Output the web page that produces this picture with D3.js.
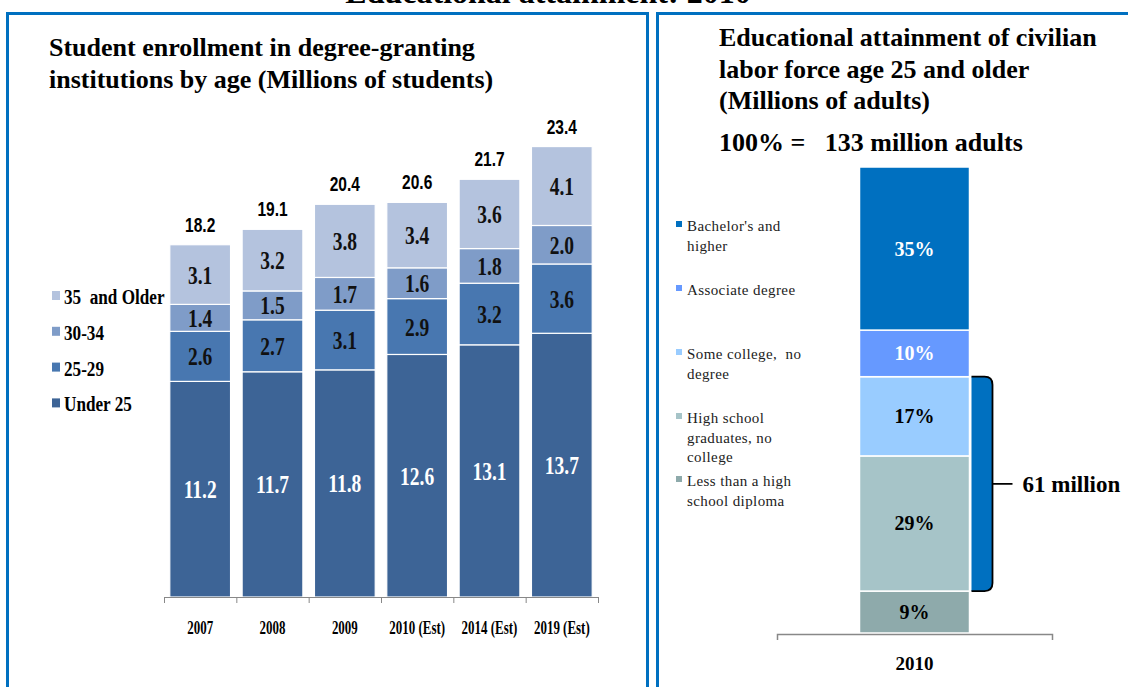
<!DOCTYPE html>
<html>
<head>
<meta charset="utf-8">
<script src="https://cdn.jsdelivr.net/npm/d3@7"></script>
<style>
  body { margin: 0; background: #fff; }
  svg { display: block; }
  text { font-family: "Liberation Serif", "Times New Roman", serif; }
</style>
</head>
<body>
<div id="chart"></div>
<script>
// left chart data
const years = ['2007', '2008', '2009', '2010 (Est)', '2014 (Est)', '2019 (Est)'];
const ageGroups = ['Under 25', '25-29', '30-34', '35  and Older'];
const under25 = [11.2, 11.7, 11.8, 12.6, 13.1, 13.7];
const age2529 = [2.6, 2.7, 3.1, 2.9, 3.2, 3.6];
const age3034 = [1.4, 1.5, 1.7, 1.6, 1.8, 2.0];
const age35up = [3.1, 3.2, 3.8, 3.4, 3.6, 4.1];
const totals = [18.2, 19.1, 20.4, 20.6, 21.7, 23.4];
const ageColors = ['#3d6496', '#4877b0', '#7f9cc8', '#b4c3de'];

// right chart data
const levels = ['Less than a high school diploma', 'High school graduates, no college',
  'Some college, no degree', 'Associate degree', "Bachelor's and higher"];
const shares = [9, 29, 17, 10, 35];
const levelColors = ['#8eaaab', '#a6c4c8', '#99ccff', '#6699ff', '#0070c0'];
const labelColors = ['#000', '#000', '#000', '#fff', '#fff'];
const legendLines = [
  ['Less than a high', 'school diploma'],
  ['High school', 'graduates, no', 'college'],
  ['Some college,  no', 'degree'],
  ['Associate degree'],
  ["Bachelor's and", 'higher']
];

const w = 1128, h = 687;
const svg = d3.select('#chart').append('svg').attr('width', w).attr('height', h);

// narrow text: place at (x,y) and squeeze horizontally
function squeeze(x, y, sx){
  return 'translate(' + x + ',' + y + ') scale(' + sx + ',1)';
}

// panels
const blue = '#0070c0';
svg.append('rect').attr('x', 7.5).attr('y', 13.5).attr('width', 640).attr('height', 700)
  .attr('fill', 'none').attr('stroke', blue).attr('stroke-width', 3);
svg.append('rect').attr('x', 657.5).attr('y', 13.5).attr('width', 500).attr('height', 700)
  .attr('fill', 'none').attr('stroke', blue).attr('stroke-width', 3);

// heading, cut off by the top edge as in the original
svg.append('text').text('Educational attainment: 2010')
  .attr('x', 548).attr('y', 3).attr('text-anchor', 'middle')
  .attr('font-size', 32).attr('font-weight', 'bold');

// ---------- left chart ----------
svg.selectAll('text.titleL')
  .data(['Student enrollment in degree-granting', 'institutions by age (Millions of students)'])
  .enter().append('text')
  .attr('class', 'titleL')
  .attr('x', 49).attr('y', (d, i) => 56 + i * 32)
  .attr('font-size', 26).attr('font-weight', 'bold')
  .text(d => d);

const x = d3.scaleBand().domain(years).range([164, 598]).paddingInner(0.16).paddingOuter(0.08);
const y = d3.scaleLinear().domain([0, 25]).range([597, 597 - 25 * 19.25]);

const rows = years.map((yr, i) => ({year: yr, 'Under 25': under25[i], '25-29': age2529[i],
  '30-34': age3034[i], '35  and Older': age35up[i], total: totals[i]}));
const stacked = d3.stack().keys(ageGroups)(rows);

const layer = svg.selectAll('g.layer')
  .data(stacked)
  .enter()
  .append('g')
  .attr('class', 'layer')
  .attr('fill', (d, i) => ageColors[i]);

layer.selectAll('rect')
  .data(d => d)
  .enter()
  .append('rect')
  .attr('x', d => x(d.data.year))
  .attr('width', x.bandwidth())
  .attr('y', d => y(d[1]))
  .attr('height', d => y(d[0]) - y(d[1]))
  .attr('stroke', '#fff')
  .attr('stroke-width', 1.2);

stacked.forEach(function(s, k){
  svg.selectAll('text.seg' + k)
    .data(s)
    .enter()
    .append('text')
    .attr('class', 'seg' + k)
    .text(d => (d[1] - d[0]).toFixed(1))
    .attr('transform', d => squeeze(x(d.data.year) + x.bandwidth() / 2, (y(d[0]) + y(d[1])) / 2 + 9, 0.75))
    .attr('text-anchor', 'middle')
    .attr('font-size', 26)
    .attr('font-weight', 'bold')
    .attr('fill', k == 0 ? '#fff' : '#111');
});

svg.selectAll('text.total')
  .data(rows)
  .enter()
  .append('text')
  .attr('class', 'total')
  .text(d => d.total.toFixed(1))
  .attr('transform', d => squeeze(x(d.year) + x.bandwidth() / 2, y(d3.sum(ageGroups, k => d[k])) - 13, 0.74))
  .attr('text-anchor', 'middle')
  .style('font-family', '"Liberation Sans", Arial, sans-serif')
  .attr('font-size', 21)
  .attr('font-weight', 'bold');

// axis with ticks between categories
const xEdge = d3.scaleLinear().domain([0, years.length]).range([164, 598]);
const xAxis = d3.axisBottom(xEdge).tickValues(d3.range(years.length + 1))
  .tickFormat('').tickSizeInner(6).tickSizeOuter(0);
const gx = svg.append('g').attr('transform', 'translate(0,597)').call(xAxis);
gx.selectAll('path, line').attr('stroke', '#888');

svg.selectAll('text.year')
  .data(years)
  .enter()
  .append('text')
  .attr('class', 'year')
  .text(d => d)
  .attr('transform', d => squeeze(x(d) + x.bandwidth() / 2, 634, 0.72))
  .attr('text-anchor', 'middle')
  .attr('font-size', 18)
  .attr('font-weight', 'bold');

// legend
const legL = svg.selectAll('g.legL')
  .data(ageGroups.slice().reverse())
  .enter()
  .append('g')
  .attr('class', 'legL')
  .attr('transform', (d, i) => 'translate(52,' + (296 + i * 35.8) + ')');
legL.append('rect').attr('x', 0).attr('y', -5).attr('width', 8).attr('height', 9)
  .attr('fill', (d, i) => ageColors[ageGroups.length - 1 - i]);
legL.append('text').text(d => d).attr('transform', squeeze(12, 8, 0.78))
  .attr('xml:space', 'preserve')
  .attr('font-size', 22).attr('font-weight', 'bold');

// ---------- right chart ----------
svg.append('text').attr('font-size', 26).attr('font-weight', 'bold')
  .selectAll('tspan')
  .data(['Educational attainment of civilian', 'labor force age 25 and older', '(Millions of adults)'])
  .enter().append('tspan')
  .attr('x', 719).attr('y', (d, i) => 46 + i * 31.5)
  .text(d => d);

svg.append('text').attr('x', 719).attr('y', 151)
  .attr('font-size', 26).attr('font-weight', 'bold')
  .attr('xml:space', 'preserve')
  .text('100% =   133 million adults');

const x2 = d3.scaleBand().domain(['2010']).range([777, 1052]).padding(0.4286);
const y2 = d3.scaleLinear().domain([0, 100]).range([633, 167]);

let acc = 0;
const segs = shares.map(function(v, i){
  const s = {level: levels[i], v: v, y0: acc, y1: acc + v, i: i};
  acc += v;
  return s;
});

svg.selectAll('rect.lev')
  .data(segs)
  .enter()
  .append('rect')
  .attr('class', 'lev')
  .attr('x', x2('2010'))
  .attr('width', x2.bandwidth())
  .attr('y', d => y2(d.y1))
  .attr('height', d => y2(d.y0) - y2(d.y1))
  .attr('fill', d => levelColors[d.i])
  .attr('stroke', '#fff')
  .attr('stroke-width', 1.5);

svg.selectAll('text.lev')
  .data(segs)
  .enter()
  .append('text')
  .attr('class', 'lev')
  .text(d => d.v + '%')
  .attr('x', x2('2010') + x2.bandwidth() / 2)
  .attr('y', d => (y2(d.y0) + y2(d.y1)) / 2 + 7)
  .attr('text-anchor', 'middle')
  .attr('font-size', 20)
  .attr('font-weight', 'bold')
  .attr('fill', d => labelColors[d.i]);

const xAxis2 = d3.axisBottom(x2).tickSizeInner(0).tickSizeOuter(6).tickPadding(23);
const gx2 = svg.append('g').attr('transform', 'translate(0,634)').call(xAxis2);
gx2.select('path').attr('stroke', '#888').attr('stroke-width', 1.5);
gx2.selectAll('text').style('font-family', '"Liberation Serif", serif')
  .attr('font-size', 19).attr('font-weight', 'bold').attr('fill', '#000');

// brace over the bottom three segments (61 million)
const bTop = y2(shares[0] + shares[1] + shares[2]);
const bBot = y2(shares[0]);
const bMid = (bTop + bBot) / 2;
const bx0 = x2('2010') + x2.bandwidth() + 2, bx1 = bx0 + 21;
const braceOutline = 'M' + bx0 + ',' + bTop + ' L' + (bx1 - 8) + ',' + bTop +
    ' Q' + bx1 + ',' + bTop + ' ' + bx1 + ',' + (bTop + 8) +
    ' L' + bx1 + ',' + (bBot - 8) +
    ' Q' + bx1 + ',' + bBot + ' ' + (bx1 - 8) + ',' + bBot +
    ' L' + bx0 + ',' + bBot;
svg.append('path').attr('d', braceOutline + ' Z').attr('fill', blue);
svg.append('path')
  .attr('d', braceOutline + ' M' + bx1 + ',' + bMid + ' L' + (bx1 + 20) + ',' + bMid)
  .attr('fill', 'none').attr('stroke', '#000').attr('stroke-width', 1.8);
svg.append('text').text('61 million').attr('x', bx1 + 30).attr('y', bMid + 8)
  .attr('font-size', 23).attr('font-weight', 'bold');

// legend right
const legR = svg.selectAll('g.legR')
  .data(segs.slice().reverse())
  .enter()
  .append('g')
  .attr('class', 'legR')
  .attr('transform', (d, i) => 'translate(676,' + [227, 291, 355, 419, 482][i] + ')');
legR.append('rect').attr('x', 0).attr('y', -6).attr('width', 6).attr('height', 6)
  .attr('fill', d => levelColors[d.i]);
legR.append('text').attr('font-size', 15).attr('fill', '#222')
  .attr('letter-spacing', 0.4)
  .selectAll('tspan')
  .data(d => legendLines[d.i])
  .enter().append('tspan')
  .attr('x', 11).attr('y', (d, i) => 4 + i * 19.5)
  .attr('xml:space', 'preserve')
  .text(d => d);
</script>
</body>
</html>
